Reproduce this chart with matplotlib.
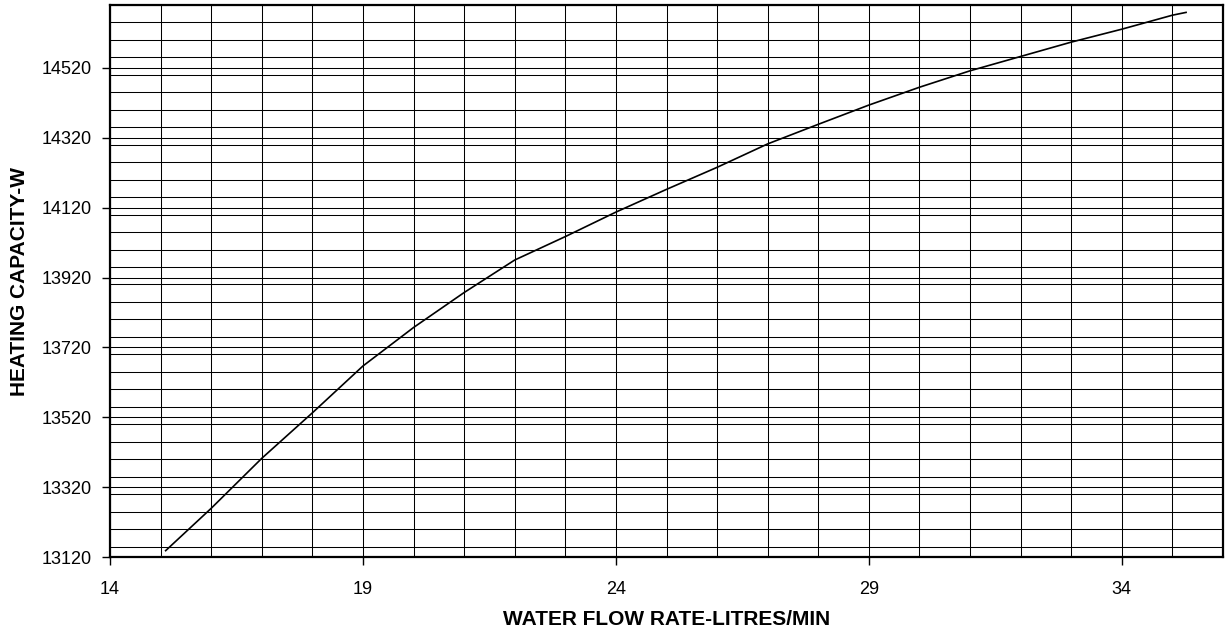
import matplotlib
matplotlib.use("Agg")
import matplotlib.pyplot as plt
from matplotlib.ticker import MultipleLocator

plt.rcParams['font.family'] = ['Liberation Sans', 'DejaVu Sans']

# Heating capacity versus water flow rate
flow_rate = [15.1, 16, 17, 18, 19, 20, 21, 22, 23, 24, 25, 26, 27, 28,
             29, 30, 31, 32, 33, 34, 35, 35.27]
capacity = [13139, 13260, 13403, 13533, 13667, 13777, 13877, 13970, 14037,
            14107, 14172, 14235, 14302, 14358, 14413, 14464, 14511, 14552,
            14593, 14630, 14670, 14678]

x_ticks = [14, 19, 24, 29, 34]
y_ticks = [13120, 13320, 13520, 13720, 13920, 14120, 14320, 14520]

fig = plt.figure(figsize=(12.25, 6.35), dpi=100)
ax = fig.add_axes([110 / 1225, (635 - 557.3) / 635,
                   (1223 - 110) / 1225, (557.3 - 4.7) / 635])

ax.plot(flow_rate, capacity, color='black', linewidth=1.2, zorder=3)

ax.set_xlim(14, 36)
ax.set_ylim(13120, 14700)
ax.set_xticks(x_ticks)
ax.set_yticks(y_ticks)
ax.xaxis.set_minor_locator(MultipleLocator(1))
ax.yaxis.set_minor_locator(MultipleLocator(50))

ax.grid(which='both', color='black', linewidth=0.75)
ax.tick_params(which='minor', length=0)
ax.tick_params(which='major', direction='out', length=6, width=1,
               labelsize=13, color='black')
ax.tick_params(axis='x', pad=11)
ax.tick_params(axis='y', pad=7)

for spine in ax.spines.values():
    spine.set_linewidth(1.6)
    spine.set_color('black')

ax.set_xlabel('WATER FLOW RATE-LITRES/MIN', fontsize=15, fontweight='bold',
              labelpad=9)
ax.set_ylabel('HEATING CAPACITY-W', fontsize=15, fontweight='bold',
              labelpad=9)

fig.savefig('out.png', dpi=100)
